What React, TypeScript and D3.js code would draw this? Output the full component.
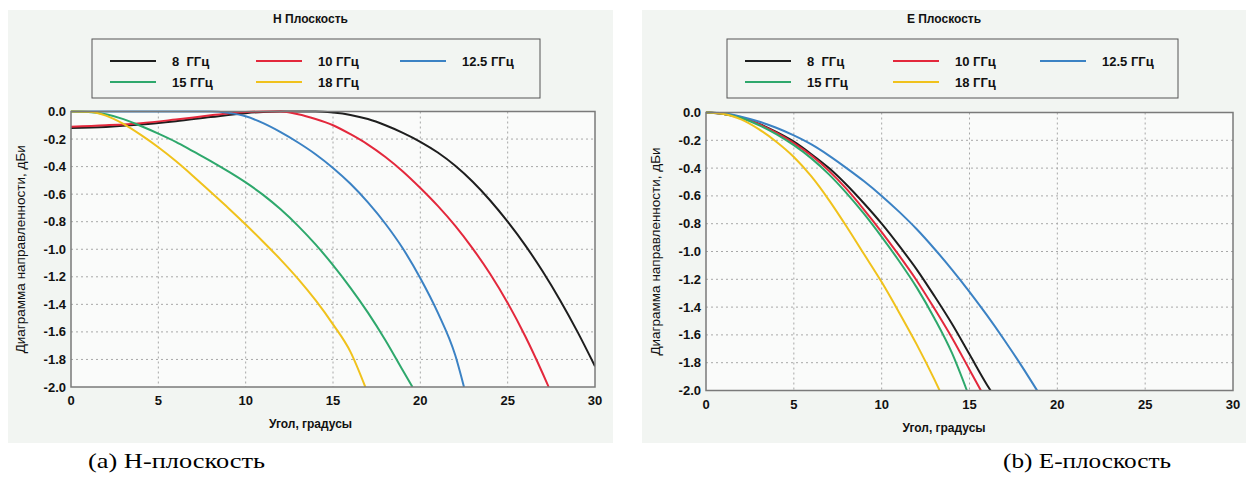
import React, { useRef, useEffect } from 'react';
import * as d3 from 'd3';

// frequencies and colours shared by both panels
const FREQ_LABELS = ['8  ГГц', '10 ГГц', '12.5 ГГц', '15 ГГц', '18 ГГц'];
const FREQ_COLORS = ['#1e1e1e', '#e3283c', '#3b82c4', '#2ea86c', '#f0c21c'];

const X_TICKS = [0, 5, 10, 15, 20, 25, 30];
const Y_TICKS = [0, -0.2, -0.4, -0.6, -0.8, -1.0, -1.2, -1.4, -1.6, -1.8, -2.0];

// H-plane, [angle, dBi]
const H_8 = [[0, -0.12], [2, -0.112], [4, -0.095], [6, -0.07], [8, -0.04], [10, -0.012], [11, -0.003], [12, 0], [14, 0], [15, -0.008], [16, -0.025], [17, -0.055], [18, -0.1], [19, -0.155], [20, -0.22], [21, -0.298], [22, -0.394], [23, -0.51], [24, -0.646], [25, -0.8], [26, -0.97], [27, -1.16], [28, -1.37], [29, -1.6], [30, -1.85]];
const H_10 = [[0, -0.11], [2, -0.1], [4, -0.085], [6, -0.058], [8, -0.028], [9, -0.014], [10, -0.004], [11, 0], [12, 0], [13, -0.02], [14, -0.055], [15, -0.1], [16, -0.165], [17, -0.24], [18, -0.33], [19, -0.435], [20, -0.555], [21, -0.685], [22, -0.83], [23, -0.995], [24, -1.18], [25, -1.39], [26, -1.63], [27, -1.9], [27.35, -2.0]];
const H_125 = [[0, 0], [8, 0], [9, -0.01], [10, -0.035], [11, -0.085], [12, -0.15], [13, -0.225], [14, -0.31], [15, -0.41], [16, -0.525], [17, -0.66], [18, -0.815], [19, -0.995], [20, -1.21], [21, -1.46], [22, -1.77], [22.5, -2.0]];
const H_15 = [[0, 0], [1, -0.003], [2, -0.02], [3, -0.055], [4, -0.105], [5, -0.16], [6, -0.22], [7, -0.29], [8, -0.36], [9, -0.435], [10, -0.515], [11, -0.605], [12, -0.71], [13, -0.83], [14, -0.965], [15, -1.115], [16, -1.28], [17, -1.46], [18, -1.66], [19, -1.88], [19.55, -2.0]];
const H_18 = [[0, 0], [1, -0.002], [2, -0.03], [3, -0.09], [4, -0.17], [5, -0.26], [6, -0.36], [7, -0.47], [8, -0.585], [9, -0.7], [10, -0.82], [11, -0.945], [12, -1.075], [13, -1.215], [14, -1.37], [15, -1.545], [16, -1.745], [16.85, -2.0]];

// E-plane, [angle, dBi]
const E_8 = [[0, 0], [1, -0.01], [2, -0.035], [3, -0.08], [4, -0.14], [5, -0.21], [6, -0.3], [7, -0.4], [8, -0.52], [9, -0.655], [10, -0.8], [11, -0.96], [12, -1.13], [13, -1.32], [14, -1.52], [15, -1.74], [16, -1.96], [16.2, -2.0]];
const E_10 = [[0, 0], [1, -0.01], [2, -0.037], [3, -0.083], [4, -0.145], [5, -0.22], [6, -0.31], [7, -0.42], [8, -0.55], [9, -0.7], [10, -0.86], [11, -1.03], [12, -1.21], [13, -1.41], [14, -1.62], [15, -1.85], [15.65, -2.0]];
const E_125 = [[0, 0], [1, -0.006], [2, -0.03], [3, -0.065], [4, -0.11], [5, -0.165], [6, -0.23], [7, -0.31], [8, -0.4], [9, -0.495], [10, -0.6], [11, -0.715], [12, -0.84], [13, -0.98], [14, -1.13], [15, -1.29], [16, -1.46], [17, -1.64], [18, -1.83], [18.85, -2.0]];
const E_15 = [[0, 0], [1, -0.01], [2, -0.04], [3, -0.09], [4, -0.155], [5, -0.235], [6, -0.33], [7, -0.445], [8, -0.58], [9, -0.73], [10, -0.895], [11, -1.07], [12, -1.26], [13, -1.48], [14, -1.73], [14.85, -2.0]];
const E_18 = [[0, 0], [1, -0.01], [2, -0.05], [3, -0.12], [4, -0.21], [5, -0.32], [6, -0.46], [7, -0.63], [8, -0.82], [9, -1.02], [10, -1.22], [11, -1.44], [12, -1.67], [13, -1.92], [13.3, -2.0]];

const H_SERIES = [H_8, H_10, H_125, H_15, H_18];
const E_SERIES = [E_8, E_10, E_125, E_15, E_18];

const SANS = 'Liberation Sans, Arial, sans-serif';

function Panel(props) {
    const ref = useRef();
    const c = props.cfg;

    useEffect(() => {
        const g = d3.select(ref.current);
        g.selectAll('*').remove();

        const x = d3.scaleLinear().domain([0, 30]).range([c.left, c.right]);
        const y = d3.scaleLinear().domain([0, -2]).range([c.top, c.bottom]);
        const mid = c.bgX + c.bgW / 2;

        // panel background
        g.append('rect')
            .attr('x', c.bgX).attr('y', 10)
            .attr('width', c.bgW).attr('height', 433)
            .attr('fill', '#f2f5f2');

        g.append('text')
            .attr('x', mid).attr('y', 23)
            .attr('text-anchor', 'middle')
            .attr('font-family', SANS).attr('font-size', 12).attr('font-weight', 'bold')
            .attr('fill', '#111')
            .text(c.title);

        // legend
        const lg = g.append('g');
        lg.append('rect')
            .attr('x', c.legX).attr('y', 39)
            .attr('width', c.legW).attr('height', 59)
            .attr('fill', 'none').attr('stroke', '#555').attr('stroke-width', 1);
        FREQ_LABELS.forEach((lab, i) => {
            const col = i % 3, row = Math.floor(i / 3);
            const lx = c.legX + c.legCols[col];
            const ly = 61 + row * 21;
            lg.append('line')
                .attr('x1', lx).attr('x2', lx + 46)
                .attr('y1', ly).attr('y2', ly)
                .attr('stroke', FREQ_COLORS[i]).attr('stroke-width', 2);
            lg.append('text')
                .attr('x', lx + 62).attr('y', ly + 4.5)
                .attr('font-family', SANS).attr('font-size', 13).attr('font-weight', 'bold')
                .attr('fill', '#111')
                .attr('xml:space', 'preserve')
                .text(lab);
        });

        // plot area
        g.append('rect')
            .attr('x', c.left).attr('y', c.top)
            .attr('width', c.right - c.left).attr('height', c.bottom - c.top)
            .attr('fill', '#fafbfa');

        g.append('g').selectAll('line').data(X_TICKS.slice(1, -1)).enter().append('line')
            .attr('x1', d => x(d)).attr('x2', d => x(d))
            .attr('y1', c.top).attr('y2', c.bottom)
            .attr('stroke', '#a8a8a8').attr('stroke-dasharray', '2,3');
        g.append('g').selectAll('line').data(Y_TICKS.slice(1, -1)).enter().append('line')
            .attr('x1', c.left).attr('x2', c.right)
            .attr('y1', d => y(d)).attr('y2', d => y(d))
            .attr('stroke', '#a8a8a8').attr('stroke-dasharray', '2,3');

        const line = d3.line()
            .x(d => x(d[0]))
            .y(d => y(d[1]))
            .curve(d3.curveMonotoneX);

        const clipId = 'clip-' + c.key;
        g.append('clipPath').attr('id', clipId).append('rect')
            .attr('x', c.left).attr('y', c.top - 2)
            .attr('width', c.right - c.left).attr('height', c.bottom - c.top + 2);

        g.append('g').attr('clip-path', `url(#${clipId})`)
            .selectAll('path').data(props.series).enter().append('path')
            .attr('d', d => line(d))
            .attr('fill', 'none')
            .attr('stroke', (d, i) => FREQ_COLORS[i])
            .attr('stroke-width', 2);

        g.append('rect')
            .attr('x', c.left).attr('y', c.top)
            .attr('width', c.right - c.left).attr('height', c.bottom - c.top)
            .attr('fill', 'none').attr('stroke', '#7a7a7a').attr('stroke-width', 1.5);

        // tick labels
        g.append('g').selectAll('text').data(X_TICKS).enter().append('text')
            .attr('x', d => x(d)).attr('y', c.bottom + 18)
            .attr('text-anchor', 'middle')
            .attr('font-family', SANS).attr('font-size', 13).attr('font-weight', 'bold')
            .attr('fill', '#111')
            .text(d => d);
        g.append('g').selectAll('text').data(Y_TICKS).enter().append('text')
            .attr('x', c.left - 5).attr('y', d => y(d) + 4.5)
            .attr('text-anchor', 'end')
            .attr('font-family', SANS).attr('font-size', 13).attr('font-weight', 'bold')
            .attr('fill', '#111')
            .text(d => d3.format('.1f')(d).replace('−', '-'));

        g.append('text')
            .attr('x', mid).attr('y', c.bottom + 41)
            .attr('text-anchor', 'middle')
            .attr('font-family', SANS).attr('font-size', 12).attr('font-weight', 'bold')
            .attr('fill', '#111')
            .text('Угол, градусы');
        g.append('text')
            .attr('transform', `translate(${c.left - 46},${(c.top + c.bottom) / 2}) rotate(-90)`)
            .attr('text-anchor', 'middle')
            .attr('font-family', SANS).attr('font-size', 13.5)
            .attr('fill', '#111')
            .text('Диаграмма направленности, дБи');

        g.append('text')
            .attr('x', c.capX).attr('y', 468)
            .attr('font-family', 'Liberation Serif, DejaVu Serif, serif').attr('font-size', 22)
            .attr('textLength', c.capW).attr('lengthAdjust', 'spacingAndGlyphs')
            .attr('fill', '#000')
            .text(c.caption);
    }, [props.series, c]);

    return <g ref={ref}></g>;
}

const H_CFG = {
    key: 'h', title: 'Н Плоскость', caption: '(a) Н-плоскость',
    left: 71, right: 595, top: 111.5, bottom: 387,
    bgX: 8, bgW: 605,
    legX: 92, legW: 448, legCols: [18, 164, 308],
    capX: 88, capW: 177,
};
const E_CFG = {
    key: 'e', title: 'Е Плоскость', caption: '(b) Е-плоскость',
    left: 706, right: 1233, top: 112.5, bottom: 390.5,
    bgX: 642, bgW: 604,
    legX: 727, legW: 451, legCols: [18, 166, 313],
    capX: 1003, capW: 168,
};

export default function App() {
    return (
        <svg width={1246} height={481} style={{ position: 'absolute', left: 0, top: 0, background: '#fff' }}>
            <Panel cfg={H_CFG} series={H_SERIES} />
            <Panel cfg={E_CFG} series={E_SERIES} />
        </svg>
    );
}
